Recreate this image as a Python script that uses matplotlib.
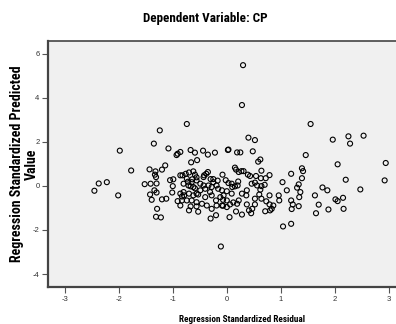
import matplotlib
matplotlib.use("Agg")
import matplotlib.pyplot as plt
from matplotlib import font_manager

# Residuals (x) and predicted values (y)
resid = [
    0.30, 0.28, -0.74, -1.24, 1.55, -1.35, -1.98, -1.08, -0.93, -0.91,
    -0.86, -0.67, -0.59, -0.44, -0.35, -0.22, 0.02, 0.03, -0.55, -0.66,
    0.40, 0.52, 1.96, 2.25, 2.28, 2.53, 0.19, 0.25, 0.48, 0.58,
    0.62, 1.46, 2.05, 2.94, 2.92, 2.20, 2.47, -1.77, -2.22, -2.37,
    -2.45, -2.01, -1.43, -1.32, -1.20, -1.14, -1.52, -1.41, -1.31, -1.30,
    -1.33, -1.34, -1.30, -1.42, -1.39, -1.29, -1.31, -1.22, -1.20, -1.12,
    -1.05, -0.99, -1.00, -1.01, -0.91, -0.86, -0.83, -0.79, -0.82, -0.76,
    -0.70, -0.62, -0.59, -0.56, -0.72, -0.67, -0.70, -0.59, -0.56, -0.70,
    -0.67, -0.53, -0.56, -0.42, -0.35, -0.30, -0.25, -0.17, -0.08, -0.02,
    0.03, 0.15, 0.17, 0.22, 0.27, 0.31, 0.64, 1.39, 1.41, 1.39,
    1.19, 0.79, 0.72, 0.63, 0.54, 0.43, 0.21, 0.52, 0.70, 1.03,
    1.33, 1.30, 1.36, 1.34, 1.11, 1.77, 1.86, 1.63, 2.01, 2.05,
    2.15, 1.70, 2.16, 1.88, 1.65, 1.19, 1.22, 1.20, 1.33, 0.96,
    0.97, 1.04, 1.19, 0.79, 0.73, 0.79, 0.86, 0.83, 0.80, 0.71,
    0.62, 0.60, 0.64, 0.37, 0.28, 0.36, 0.52, 0.52, 0.47, 0.45,
    0.41, 0.37, 0.28, 0.17, 0.05, 0.22, 0.12, 0.06, 0.00, -0.07,
    -0.07, 0.09, 0.00, -0.06, 0.10, 0.15, -0.09, -0.11, -0.30, -0.20,
    0.39, 0.09, 0.20, 0.46, 0.56, 0.64, -0.64, -0.38, -0.43, -0.86,
    -0.80, -0.62, -0.53, -0.49, -0.40, -0.31, -0.28, -0.20, -0.12, 0.19,
    0.00, -0.09, -0.19, -0.28, -0.37, -0.46, -0.56, -0.65, -0.74, -0.83,
    -0.86, -0.74, -0.65, -0.56, -0.49, -0.43, -0.34, -0.28, -0.25, -0.19,
    -0.16, -0.40, -0.62, -0.71, -0.80,
]
pred = [
    5.48, 3.67, 2.81, 2.52, 2.81, 1.92, 1.60, 1.70, 1.40, 1.46,
    1.54, 1.63, 1.51, 1.60, 1.42, 1.51, 1.63, 1.65, 1.17, 1.07,
    2.19, 2.08, 2.10, 2.25, 1.92, 2.28, 1.52, 1.52, 1.57, 1.10,
    1.20, 1.40, 0.98, 1.04, 0.25, 0.28, -0.16, 0.70, 0.17, 0.11,
    -0.22, -0.43, 0.75, 0.66, 0.74, 0.93, 0.08, 0.10, 0.40, 0.11,
    0.51, -0.20, -0.30, -0.39, -0.63, -1.04, -1.40, -1.43, -0.61, -0.58,
    0.26, 0.30, -0.01, -0.30, -0.69, -0.89, -0.48, -0.43, 0.48, 0.55,
    0.61, 0.66, 0.51, 0.39, 0.19, -0.02, -0.35, -0.11, -0.35, -1.11,
    -0.93, -1.17, -0.93, 0.48, 0.63, 0.31, 0.31, 0.24, 0.51, 0.26,
    0.13, 0.83, 0.74, 0.63, 0.67, 0.67, 0.69, 0.80, 0.67, 0.35,
    0.55, 0.49, 0.35, 0.35, 0.45, 0.45, 0.20, 0.15, 0.05, 0.17,
    0.07, -0.08, -0.28, -0.51, -0.20, -0.07, -0.20, -0.43, -0.61, -0.69,
    -0.54, -0.85, -1.04, -1.07, -1.24, -0.66, -0.84, -1.05, -0.92, -0.43,
    -0.66, -1.84, -1.72, -0.43, -0.70, -0.84, -0.89, -1.04, -1.11, -1.15,
    -0.17, -0.39, -0.58, -0.20, -0.35, -0.43, -0.58, -0.84, -1.04, -1.24,
    -1.11, -0.84, -1.30, -1.16, -1.42, -0.66, -0.75, -0.84, -0.66, -0.63,
    -0.90, -0.35, -0.24, -0.43, -0.05, -0.02, -0.20, -2.75, -1.48, -1.33,
    0.51, 0.10, 0.02, 0.10, 0.02, -0.01, 0.30, 0.55, 0.40, -0.35,
    -0.28, -0.43, -0.39, -0.20, -0.51, -0.28, -0.43, -0.66, -0.51, -0.81,
    -0.96, -0.89, -0.89, -1.04, -0.89, -0.81, -0.74, -0.66, -0.66, -0.66,
    0.48, 0.33, 0.17, 0.25, 0.10, 0.02, 0.02, -0.05, 0.17, 0.02,
    -0.13, -0.13, -0.05, 0.02, 0.10,
]

x_ticks = [-3, -2, -1, 0, 1, 2, 3]
y_ticks = [-4, -2, 0, 2, 4, 6]


def is_bold(w):
    if isinstance(w, str):
        return w.lower() in ('bold', 'heavy', 'black', 'demibold', 'semibold', 'extra bold')
    return w >= 600


# look for an upright condensed font with a bold face (Arial Narrow look-alike)
narrow_bold = set(
    f.name for f in font_manager.fontManager.ttflist
    if ('Narrow' in f.name or 'Condensed' in f.name or 'condensed' in str(f.stretch))
    and is_bold(f.weight) and f.style == 'normal'
)
order = ['Liberation Sans Narrow', 'Arial Narrow', 'Roboto Condensed', 'DejaVu Sans']
pref = [n for n in order if n in narrow_bold] + sorted(narrow_bold)
label_font = pref[:1] + ['Liberation Sans', 'DejaVu Sans']
plt.rcParams['font.family'] = ['Liberation Sans', 'DejaVu Sans']

fig = plt.figure(figsize=(3.96, 3.24), dpi=100)
ax = fig.add_axes([0.121, 0.1127, 0.879, 0.7603])
ax.set_facecolor('#f0f0f0')

ax.scatter(resid, pred, s=13, facecolors='none', edgecolors='black', linewidths=0.8)

ax.set_xlim(-3.31, 3.13)
ax.set_ylim(-4.61, 6.57)
ax.set_xticks(x_ticks)
ax.set_yticks(y_ticks)
ax.set_xticklabels([str(t) for t in x_ticks])
ax.set_yticklabels([str(t) for t in y_ticks])
ax.tick_params(labelsize=5.5, length=4, width=0.8, color='#555555', labelcolor='#333333', pad=2)

for side in ['left', 'bottom', 'top']:
    ax.spines[side].set_color('#444444')
    ax.spines[side].set_linewidth(1.6)
ax.spines['top'].set_linewidth(1.2)
ax.spines['right'].set_visible(False)

kw = dict(fontsize=9, fontweight='bold', fontstretch='condensed', fontstyle='normal',
          family=label_font)
title = fig.text(0.519, 0.944, 'Dependent Variable: CP', ha='center', va='center', **kw)
xlab = fig.text(0.611, 0.0154, 'Regression Standardized Residual', ha='center', va='center', **kw)
ylab1 = fig.text(0.044, 0.494, 'Regression Standardized Predicted', ha='center', va='center',
                 rotation=90, **kw)
ylab2 = fig.text(0.081, 0.494, 'Value', ha='center', va='center', rotation=90, **kw)

# fit the label lengths to the reference
fig.canvas.draw()
r = fig.canvas.get_renderer()
for t, target, vertical in [(title, 125, False), (xlab, 126, False), (ylab1, 213, True)]:
    bb = t.get_window_extent(r)
    size = bb.height if vertical else bb.width
    t.set_fontsize(min(10, t.get_fontsize() * target / size))
ylab2.set_fontsize(ylab1.get_fontsize())

fig.savefig('out.png', dpi=100)
